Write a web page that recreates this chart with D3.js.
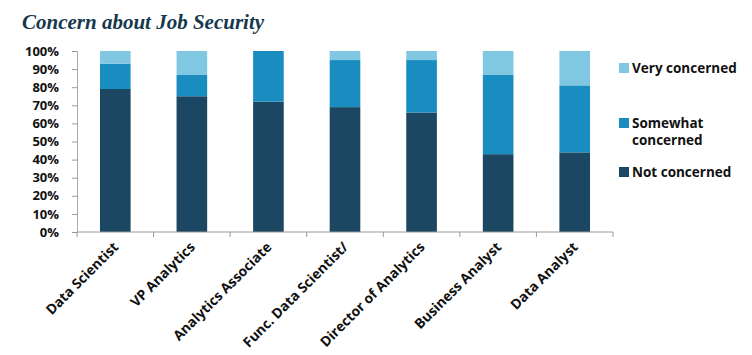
<!DOCTYPE html>
<html><head><meta charset="utf-8">
<script src="https://cdn.jsdelivr.net/npm/d3@7"></script>
<style>body{margin:0;background:#fff}svg{display:block}</style>
</head><body>
<svg id="c" width="752" height="355"></svg>
<script>
const categories = ["Data Scientist","VP Analytics","Analytics Associate","Func. Data Scientist/","Director of Analytics","Business Analyst","Data Analyst"];
const notConcerned = [79, 75, 72, 69, 66, 43, 44];
const somewhatConcerned = [14, 12, 28, 26, 29, 44, 37];
const veryConcerned = [7, 13, 0, 5, 5, 13, 19];
const seriesNames = ["Not concerned","Somewhat concerned","Very concerned"];
const yTicks = [0,10,20,30,40,50,60,70,80,90,100];
const colors = ["#1b4763","#1a8dc0","#80c7e1"];

const svg = d3.select("#c");
const m = {l:77, r:139, t:51, b:123};
const W = 752, H = 355;
const x = d3.scaleBand().domain(categories).range([m.l, W - m.r]).paddingInner(0.6).paddingOuter(0.3);
const y = d3.scaleLinear().domain([0,100]).range([H - m.b, m.t]);

svg.append("text").attr("x",22).attr("y",29)
  .attr("font-family","'Liberation Serif', serif").attr("font-weight","bold").attr("font-style","italic")
  .attr("font-size",21).attr("fill","#16384d").text("Concern about Job Security");

const data = categories.map((c,i)=>({cat:c, "Not concerned":notConcerned[i], "Somewhat concerned":somewhatConcerned[i], "Very concerned":veryConcerned[i]}));
const stack = d3.stack().keys(seriesNames)(data);

svg.append("g").selectAll("g").data(stack).join("g").attr("fill",(d,i)=>colors[i])
  .selectAll("rect").data(d=>d).join("rect")
  .attr("x",d=>x(d.data.cat)).attr("width",x.bandwidth())
  .attr("y",d=>y(d[1])).attr("height",d=>y(d[0])-y(d[1]));

// y axis
const ya = svg.append("g").attr("transform",`translate(${m.l},0)`)
  .call(d3.axisLeft(y).tickValues(yTicks).tickFormat(d=>d+"%").tickSize(5).tickPadding(13));
ya.select(".domain").attr("stroke","#aaa");
ya.selectAll(".tick line").attr("stroke","#999");
ya.selectAll("text").attr("font-family","'Open Sans', sans-serif").attr("font-weight","bold").attr("font-size",13).attr("fill","#111");

// x axis
const xg = svg.append("g").attr("transform",`translate(0,${H - m.b})`);
xg.append("line").attr("x1",m.l).attr("x2",W-m.r).attr("stroke","#999");
const bounds = d3.range(categories.length+1).map(i=>m.l + i*(W-m.l-m.r)/categories.length);
xg.selectAll("line.t").data(bounds).join("line").attr("class","t")
  .attr("x1",d=>d).attr("x2",d=>d).attr("y1",0).attr("y2",5).attr("stroke","#999");
xg.selectAll("text").data(categories).join("text")
  .attr("transform",d=>`translate(${x(d)+x.bandwidth()/2+4},16) rotate(-45)`)
  .attr("text-anchor","end")
  .attr("font-family","'Open Sans', sans-serif").attr("font-weight","bold").attr("font-size",13.8).attr("fill","#111")
  .text(d=>d);

// legend
const leg = [
  {c:colors[2], lines:["Very concerned"], y:73},
  {c:colors[1], lines:["Somewhat","concerned"], y:128},
  {c:colors[0], lines:["Not concerned"], y:177}
];
const lg = svg.append("g");
leg.forEach(l=>{
  lg.append("rect").attr("x",619).attr("y",l.y-10).attr("width",10).attr("height",10).attr("fill",l.c);
  l.lines.forEach((s,i)=>lg.append("text").attr("x",632).attr("y",l.y + i*17)
    .attr("font-family","'Open Sans', sans-serif").attr("font-weight","bold").attr("font-size",13.5).attr("fill","#111")
    .text(s));
});
</script>
</body></html>
